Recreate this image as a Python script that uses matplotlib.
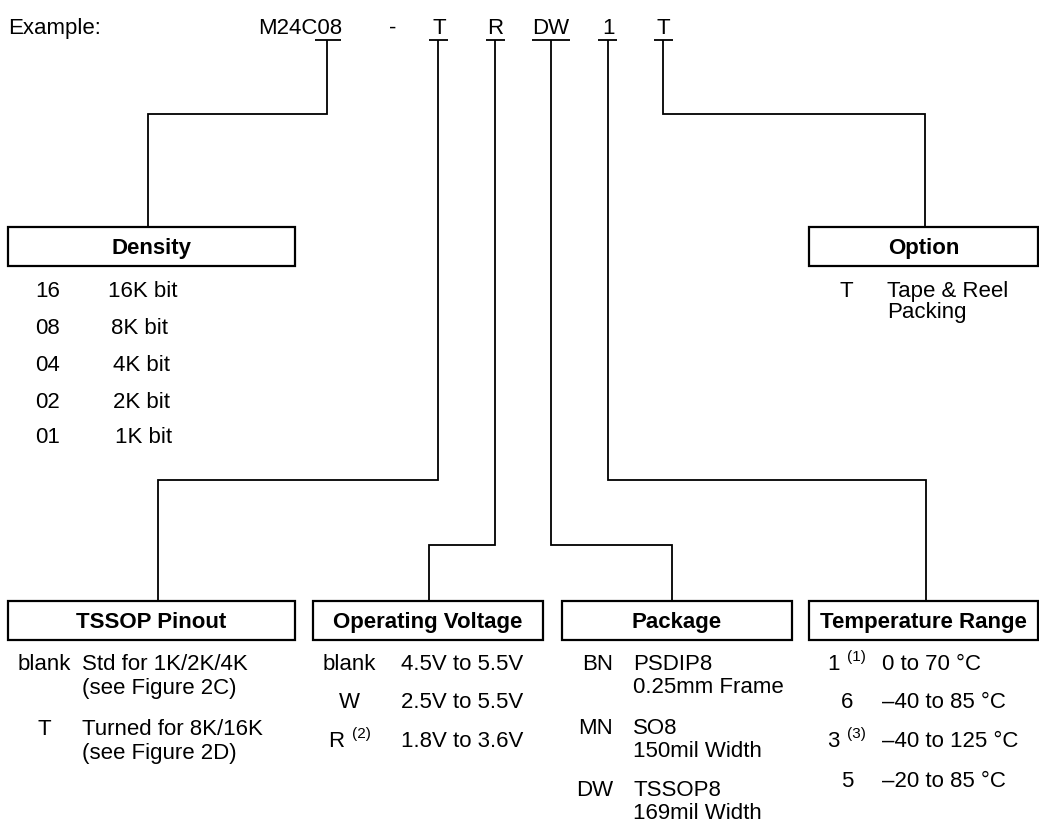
import matplotlib.pyplot as plt
import matplotlib.patches as patches

# --- Data ---
header_labels = ["M24C08", "-", "T", "R", "DW", "1", "T"]

density_codes = ["16", "08", "04", "02", "01"]
density_sizes = ["16K bit", "8K bit", "4K bit", "2K bit", "1K bit"]

option_codes = ["T"]
option_desc = [["Tape & Reel", "Packing"]]

pinout_codes = ["blank", "T"]
pinout_desc = [["Std for 1K/2K/4K", "(see Figure 2C)"],
               ["Turned for 8K/16K", "(see Figure 2D)"]]

voltage_codes = ["blank", "W", "R"]
voltage_notes = ["", "", "(2)"]
voltage_ranges = ["4.5V to 5.5V", "2.5V to 5.5V", "1.8V to 3.6V"]

package_codes = ["BN", "MN", "DW"]
package_desc = [["PSDIP8", "0.25mm Frame"],
                ["SO8", "150mil Width"],
                ["TSSOP8", "169mil Width"]]

temp_codes = ["1", "6", "3", "5"]
temp_notes = ["(1)", "", "(3)", ""]
temp_ranges = ["0 to 70 \u00b0C", "\u201340 to 85 \u00b0C",
               "\u201340 to 125 \u00b0C", "\u201320 to 85 \u00b0C"]

# --- Layout (pixel coords, y down) ---
W, H = 1039, 823
FONT = "Liberation Sans"
FS = 16
SUP = 11
LW = 1.3

fig = plt.figure(figsize=(W / 100, H / 100), dpi=100)
ax = fig.add_axes([0, 0, 1, 1])
ax.set_xlim(0, W)
ax.set_ylim(H, 0)
ax.axis("off")


def txt(x, y, s, ha="left", size=FS, weight="normal"):
    ax.text(x, y, s, ha=ha, va="baseline", fontsize=size,
            fontfamily=FONT, fontweight=weight, color="black")


def path(xs, ys):
    ax.plot(xs, ys, color="black", lw=LW, solid_joinstyle="miter",
            solid_capstyle="butt")


def box(x0, x1, title, y0=227, y1=266):
    ax.add_patch(patches.Rectangle((x0, y0), x1 - x0, y1 - y0, fill=False,
                                   edgecolor="black", lw=1.6))
    txt((x0 + x1) / 2, y1 - 12, title, ha="center", weight="bold")


# header
HB = 34
UL = 40
txt(8, HB, "Example:")
header_x = [342, 393, 439, 495, 551, 608, 663]
txt(header_x[0], HB, header_labels[0], ha="right")
for lab, x in zip(header_labels[1:], header_x[1:]):
    txt(x, HB, lab, ha="center")

# underlines under the code letters
underlines = [(315, 341), (429, 448), (486, 505), (532, 570), (598, 617), (654, 673)]
for x0, x1 in underlines:
    path([x0, x1], [UL, UL])

# connector lines: from code down to box
path([327, 327, 148, 148], [UL, 114, 114, 227])      # density
path([663, 663, 925, 925], [UL, 114, 114, 227])      # option
path([438, 438, 158, 158], [UL, 480, 480, 601])      # tssop pinout
path([495, 495, 429, 429], [UL, 545, 545, 601])      # voltage
path([551, 551, 672, 672], [UL, 545, 545, 601])      # package
path([608, 608, 926, 926], [UL, 480, 480, 601])      # temperature

# boxes
box(8, 295, "Density")
box(809, 1038, "Option")
box(8, 295, "TSSOP Pinout", 601, 640)
box(313, 543, "Operating Voltage", 601, 640)
box(562, 792, "Package", 601, 640)
box(809, 1038, "Temperature Range", 601, 640)

# density list
dens_y = [297, 334, 371, 408, 443]
dens_x = [108, 111, 113, 113, 115]
for code, size, y, x in zip(density_codes, density_sizes, dens_y, dens_x):
    txt(35, y, code)
    txt(x, y, size)

# option list
for code, desc in zip(option_codes, option_desc):
    txt(840, 297, code)
    for j, line in enumerate(desc):
        txt(887, 297 + 21 * j, line)

# tssop pinout
pin_y = [670, 735]
pin_cx = [18, 38]
for code, desc, y, cx in zip(pinout_codes, pinout_desc, pin_y, pin_cx):
    txt(cx, y, code)
    for j, line in enumerate(desc):
        txt(82, y + 24 * j, line)

# operating voltage
volt_y = [670, 708, 747]
for code, note, rng, y in zip(voltage_codes, voltage_notes, voltage_ranges, volt_y):
    if note:
        txt(328, y, code)
        txt(352, y - 9, note, size=SUP)
    else:
        txt(349, y, code, ha="center")
    txt(401, y, rng)

# package
pkg_y = [670, 734, 796]
for code, desc, y in zip(package_codes, package_desc, pkg_y):
    txt(613, y, code, ha="right")
    for j, line in enumerate(desc):
        txt(633, y + 23 * j, line)

# temperature range
temp_y = [670, 708, 747, 787]
for code, note, rng, y in zip(temp_codes, temp_notes, temp_ranges, temp_y):
    if note:
        txt(827, y, code)
        txt(847, y - 9, note, size=SUP)
    else:
        txt(847, y, code, ha="center")
    txt(882, y, rng)

fig.savefig("out.png", dpi=100)
